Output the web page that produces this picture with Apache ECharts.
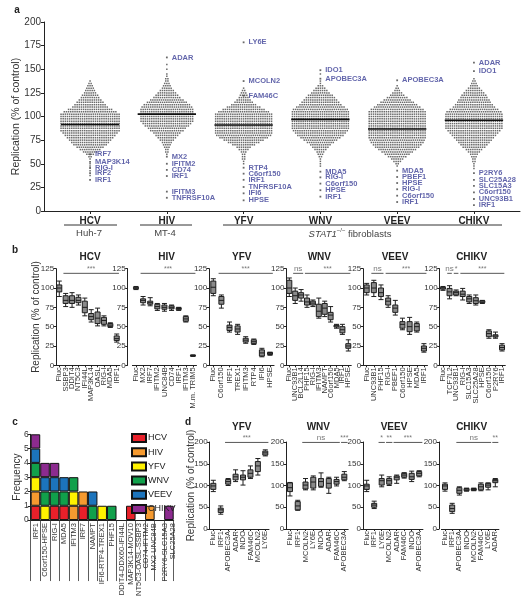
<!DOCTYPE html>
<html><head><meta charset="utf-8">
<script src="https://cdn.jsdelivr.net/npm/echarts@6/dist/echarts.min.js"></script>
<style>html,body{margin:0;padding:0;background:#fff}#c{width:530px;height:599px}</style>
</head><body><div id="c"></div><script>
// ---------- DATA: panel a (screen, beeswarm rows as [value, count]) ----------
const virusesA = ['HCV','HIV','YFV','WNV','VEEV','CHIKV'];
const cellLines = ['Huh-7','MT-4','fibroblasts'];
const meansA = [91.5, 102.5, 91, 97, 86.7, 96];
const swarmHCV = [[137.5,1],[135,2],[132.5,3],[130,4],[127.5,5],[125,6],[122.5,8],[120,9],[117.5,11],[115,13],[112.5,15],[110,17],[107.5,21],[105,25],[102.5,28],[100,28],[97.5,28],[95,28],[92.5,28],[90,28],[87.5,28],[85,28],[82.5,26],[80,24],[77.5,22],[75,20],[72.5,18],[70,16],[67.5,13],[65,10],[62.5,7],[60,4],[57.5,2],[55,1],[50,1],[47.5,1],[42.5,1],[37.5,1]];
const swarmHIV = [[155,1],[150,1],[145,1],[142.5,1],[140,2],[137.5,2],[135,3],[132.5,4],[130,5],[127.5,7],[125,9],[122.5,11],[120,13],[117.5,16],[115,19],[112.5,22],[110,24],[107.5,25],[105,25],[102.5,25],[100,25],[97.5,25],[95,25],[92.5,23],[90,21],[87.5,18],[85,16],[82.5,13],[80,11],[77.5,9],[75,7],[72.5,5],[70,4],[67.5,3],[65,2],[62.5,2],[60,1]];
const swarmYFV = [[130,1],[127.5,2],[125,3],[122.5,4],[120,5],[117.5,7],[115,9],[112.5,12],[110,16],[107.5,20],[105,24],[102.5,27],[100,27],[97.5,27],[95,27],[92.5,27],[90,27],[87.5,27],[85,27],[82.5,27],[80,26],[77.5,23],[75,19],[72.5,15],[70,11],[67.5,7],[65,5],[62.5,3],[60,2],[57.5,2],[55,2],[52.5,1],[50,1]];
const swarmWNV = [[145,1],[137.5,1],[135,1],[132.5,3],[130,5],[127.5,7],[125,9],[122.5,12],[120,14],[117.5,16],[115,18],[112.5,20],[110,23],[107.5,26],[105,27],[102.5,27],[100,27],[97.5,27],[95,27],[92.5,27],[90,27],[87.5,27],[85,26],[82.5,24],[80,22],[77.5,19],[75,16],[72.5,13],[70,10],[67.5,8],[65,6],[62.5,4],[60,3],[57.5,2],[55,1],[52.5,1],[50,1],[47.5,1]];
const swarmVEEV = [[132.5,1],[130,2],[127.5,3],[125,5],[122.5,7],[120,10],[117.5,13],[115,16],[112.5,19],[110,22],[107.5,25],[105,27],[102.5,27],[100,27],[97.5,27],[95,27],[92.5,27],[90,27],[87.5,27],[85,27],[82.5,27],[80,27],[77.5,27],[75,26],[72.5,25],[70,23],[67.5,21],[65,18],[62.5,15],[60,12],[57.5,9],[55,6],[52.5,4],[50,2],[47.5,1]];
const swarmCHIKV = [[140,1],[137.5,2],[135,3],[132.5,4],[130,6],[127.5,8],[125,10],[122.5,12],[120,13],[117.5,15],[115,16],[112.5,18],[110,20],[107.5,23],[105,26],[102.5,27],[100,27],[97.5,27],[95,27],[92.5,27],[90,27],[87.5,27],[85,25],[82.5,23],[80,21],[77.5,19],[75,17],[72.5,15],[70,13],[67.5,11],[65,8],[62.5,6],[60,4],[57.5,3],[55,2],[52.5,2],[50,1],[47.5,1],[45,1]];
const hitsHCV = [['IRF7',60],['MAP3K14',52],['RIG-I',45.5],['IRF2',40],['IRF1',33]];
const hitsHIV = [['ADAR',162.5],['MX2',57.5],['IFITM2',50],['CD74',43.5],['IRF1',37],['IFITM3',20.5],['TNFRSF10A',14]];
const hitsYFV = [['LY6E',178.5],['MCOLN2',137.5],['FAM46C',122],['RTP4',45.8],['C6orf150',39.5],['IRF1',33],['TNFRSF10A',25.4],['IFI6',18.7],['HPSE',11.3]];
const hitsWNV = [['IDO1',149],['APOBEC3A',140],['MDA5',41.6],['RIG-I',35.6],['C6orf150',29],['HPSE',22],['IRF1',15.2]];
const hitsVEEV = [['APOBEC3A',138.3],['MDA5',42.7],['PBEF1',36],['HPSE',29.6],['RIG-I',23],['C6orf150',16.2],['IRF1',9.5]];
const hitsCHIKV = [['ADAR',157],['IDO1',148],['P2RY6',40],['SLC25A28',33],['SLC15A3',26.5],['C6orf150',19.8],['UNC93B1',12.7],['IRF1',6.3]];

// ---------- DATA: panel b (boxes: [min, q1, median, q3, max]) ----------
const bHCVcats = ['Fluc','SSBP3','DDIT4','NT5C3','IFI44L','MAP3K14','OASL','RIG-I','MDA5','IRF1'];
const bHCVboxes = [[89,95,100,104,109],[76,80,84,90,93],[75,80,84,90,94],[78,81,84,88,91],[64,68,75,83,87],[56,59,63,67,72],[51,54,61,69,74],[51,53,58,62,64],[49,50,52,54,55],[30,32,34.5,38,40.5]];
const bHCVsig = [[1,9,'***']];
const bHIVcats = ['Fluc','MX2','IRF7','IFITM2','UNC84B','CD74','IRF1','IFITM3','M.m. TRIM5'];
const bHIVboxes = [[98,99,100,101,102],[78,81,84,86,89],[77,79,81,83,87.5],[71,73,76,79,80],[70,72.5,75,78,80],[71,73,75,77,78],[71,72,73.5,74.5,75],[56,57,60,63,64],[11.5,12,12.5,13,13.5]];
const bHIVsig = [[1,8,'***']];
const bYFVcats = ['Fluc','C6orf150','IRF1','TREX1','IFITM3','RTP4','IFI6','HPSE'];
const bYFVboxes = [[90,93,101,109,112],[74,79,84,89,91],[43,45,49,52,56],[40,43,47,51,53],[28.5,30,32.5,35,37],[27,28,30.5,33,34],[11,12,16,20,22],[13,14,15.5,16.5,17]];
const bYFVsig = [[1,7,'***']];
const bWNVcats = ['Fluc','UNC93B1','BCL2L14','PHF15','RIG-I','IFITM3','NAMPT','C6orf150','MDA5','IRF1','HPSE'];
const bWNVboxes = [[89,93,100,110,113],[80,84,90,96,100],[83,87,91,94,98],[75,78,82,87,91],[76,78,80.5,83,84.5],[61,63,70,79,87],[63,66,74,80,83],[56,59,65,68.5,76],[48,49.5,51,52,53],[40,42,46,50,53],[18.5,22,25,28,33]];
const bWNVsig = [[1,2,'ns'],[3,10,'***']];
const bVEEVcats = ['Fluc','UNC93B1','PHF15','RIG-I','PBEF1','C6orf150','HPSE','MDA5','IRF1'];
const bVEEVboxes = [[91,94,100,104,106],[89,94,100,107,110],[85,89,94,100,104],[75,78,83,87,90],[65,68.5,74,78,84],[46,48,53,56.5,61],[40,43.5,50,56.5,62],[43,44.5,50,54,56],[17,18.5,22,25,28]];
const bVEEVsig = [[1,2,'ns'],[3,8,'***']];
const bCHIKVcats = ['Fluc','TCF7L2','UNC93B1','RIG-I','SLC15A3','SLC25A28','HPSE','C6orf150','P2RY6','IRF1'];
const bCHIKVboxes = [[97,98.5,100,101,102],[86,90,95,99.5,103],[90,91,94,96,97.5],[84.5,89,92,96,99.5],[80,82,86,89,91],[78,80,83.5,87.5,91],[80,81,82,83.5,84],[35,37,41,44.5,46],[35,36.5,38,39.5,43],[18.5,20,23,26,28]];
const bCHIKVsig = [[1,1,'ns'],[2,2,'*'],[3,9,'***']];

// ---------- DATA: panel c ----------
const cCats = ['IRF1','C6orf150-HPSE','RIG-I','MDA5','IFITM3','IRF7','NAMPT','IFI6-RTP4-TREX1','PHF15',' ','DDIT4-DDX60-IFI44L\nMAP3K14-MOV10\nNT5C3-OASL-SSBP3','  ','CD74-IFITM2\nMX2-UNC84B','   ','P2RY6-SLC15A3\nSLC25A28'];
const cHCV   = [1,0,1,1,0,1,0,0,0,0,1,0,0,0,0];
const cHIV   = [1,0,0,0,1,1,0,0,0,0,0,0,1,0,0];
const cYFV   = [1,1,0,0,1,0,0,1,0,0,0,0,0,0,0];
const cWNV   = [1,1,1,1,1,0,1,0,1,0,0,0,0,0,0];
const cVEEV  = [1,1,1,1,0,0,1,0,0,0,0,0,0,0,0];
const cCHIKV = [1,1,1,0,0,0,0,0,0,0,0,0,0,0,1];

// ---------- DATA: panel d ----------
const dYFVcats = ['Fluc','IRF1','APOBEC3A','ADAR','INDO','FAM46C','MCOLN2','LY6E'];
const dYFVboxes = [[86,91,99,105,112],[34,38,44,48,53],[100,103,109,114,116],[109,113,120,126,136],[101,113,119,124,134],[116,119,128,136,145],[124,132,145,155,162],[168,170,175,179,182]];
const dYFVsig = [[2,7,'***']];
const dWNVcats = ['Fluc','IRF1','MCOLN2','LY6E','INDO','ADAR','FAM46C','APOBEC3A'];
const dWNVboxes = [[76,86,95,106,107],[43,44,53,63,66],[90,92,101,108,116],[90,94,108,119,122],[96,98,109,116,129],[82,94,105,116,119],[99,103,109,114,119],[111,113,119,126,132]];
const dWNVsig = [[2,6,'ns'],[7,7,'***']];
const dVEEVcats = ['Fluc','IRF1','LY6E','MCOLN2','ADAR','FAM46C','INDO','APOBEC3A'];
const dVEEVboxes = [[86,91,99,103,112],[47,50,55,59,64],[97,101,111,116,124],[100,103,111,116,120],[105,113,119,122,124],[117,119,124,128,129.5],[109,114,120,128,133],[120,122,128,132,134]];
const dVEEVsig = [[2,2,'*'],[3,3,'**'],[4,7,'***']];
const dCHIKVcats = ['Fluc','IRF1','APOBEC3A','INDO','MCOLN2','FAM46C','LY6E','ADAR'];
const dCHIKVboxes = [[87,91,99,103,106],[36,40,47,55,59],[78,82,89,95,97],[87,88,90,93,94],[88,89,91,93,94],[88,90,97,103,106],[90,96,101,105,106],[97,106.5,111,114,116]];
const dCHIKVsig = [[2,6,'ns'],[7,7,'**']];

// ---------- BUILD ----------
const FF = '"Liberation Sans", Arial, Helvetica, sans-serif';
const AX = '#222';
const gridsArr = [], xAxes = [], yAxes = [], seriesArr = [], graphics = [];
function txt(x, y, text, font, extra) {
  graphics.push({type:'text', x:x, y:y, silent:true, z:50,
    style:Object.assign({text:text, fill:'#222', font:font || ('10px ' + FF), align:'center', verticalAlign:'middle'}, extra || {})});
}
function hline(x1, x2, y, w) {
  graphics.push({type:'line', silent:true, shape:{x1:x1, y1:y, x2:x2, y2:y}, style:{stroke:'#333', lineWidth:w || 1}});
}

// Panel a
gridsArr.push({left:44, top:22, width:476, height:189});
xAxes.push({type:'value', gridIndex:0, min:-0.6, max:5.6,
  axisLine:{show:true, onZero:false, lineStyle:{color:AX, width:1}},
  axisTick:{show:true, customValues:[0,1,2,3,4,5], length:3, lineStyle:{color:AX}},
  axisLabel:{show:true, customValues:[0,1,2,3,4,5], formatter:v => virusesA[Math.round(v)] || '', fontWeight:'bold', fontSize:10, color:'#222', margin:5, fontFamily:FF},
  splitLine:{show:false}});
yAxes.push({type:'value', gridIndex:0, min:0, max:200, interval:25,
  axisLine:{show:true, onZero:false, lineStyle:{color:AX}},
  axisTick:{show:true, length:3, lineStyle:{color:AX}},
  axisLabel:{fontSize:10, color:'#333', margin:3, fontFamily:FF}, splitLine:{show:false},
  name:'Replication (% of control)', nameLocation:'middle', nameGap:22, nameMoveOverlap:false,
  nameTextStyle:{fontSize:10.5, color:'#333', fontFamily:FF}});
const swarms = [swarmHCV, swarmHIV, swarmYFV, swarmWNV, swarmVEEV, swarmCHIKV];
const hitsAll = [hitsHCV, hitsHIV, hitsYFV, hitsWNV, hitsVEEV, hitsCHIKV];
const dotGap = 2.15 / (476 / 6.2); // horizontal spacing of swarm dots, in axis units
const swarmPts = [];
swarms.forEach((rows, ci) => {
  rows.forEach(([v, n]) => {
    for (let j = 0; j < n; j++) swarmPts.push([ci + (j - (n - 1) / 2) * dotGap, v]);
  });
});
seriesArr.push({type:'scatter', xAxisIndex:0, yAxisIndex:0, data:swarmPts, symbol:'rect', symbolSize:1.5,
  itemStyle:{color:'#444'}, silent:true, animation:false});
const hitPts = [];
hitsAll.forEach((hs, ci) => hs.forEach(([name, v]) => hitPts.push({name:name, value:[ci, v]})));
seriesArr.push({type:'scatter', xAxisIndex:0, yAxisIndex:0, data:hitPts, symbol:'rect', symbolSize:1.8,
  itemStyle:{color:'#444'}, silent:true, animation:false,
  label:{show:true, position:'right', distance:4, formatter:p => p.name, fontSize:7.5, fontWeight:'bold', color:'#3b3f96', fontFamily:FF}});
meansA.forEach((m, ci) => {
  seriesArr.push({type:'line', xAxisIndex:0, yAxisIndex:0, data:[[ci - 0.38, m], [ci + 0.38, m]], symbol:'none',
    lineStyle:{color:'#111', width:1.6}, silent:true, animation:false, z:5});
});
// group annotations under panel a
hline(64, 117, 225, 1); hline(140, 192, 225, 1); hline(223, 502, 225, 1);
txt(89, 233, cellLines[0], '9.5px ' + FF, {fill:'#444'});
txt(165, 233, cellLines[1], '9.5px ' + FF, {fill:'#444'});
graphics.push({type:'text', x:350, y:233, silent:true, style:{
  text:'{i|STAT1}{s|−/−}{n| ' + cellLines[2] + '}', align:'center', verticalAlign:'middle', fill:'#444',
  rich:{i:{fontStyle:'italic', fontSize:9.5, fontFamily:FF, fill:'#444', lineHeight:12, verticalAlign:'bottom'},
        s:{fontSize:6, fontFamily:FF, fill:'#444', lineHeight:12, verticalAlign:'top'},
        n:{fontSize:9.5, fontFamily:FF, fill:'#444', lineHeight:12, verticalAlign:'bottom'}}}});

// box panels (b, d)
function addBoxPanel(p) {
  const g = gridsArr.length;
  gridsArr.push({left:p.left, top:p.top, width:p.width, height:p.height});
  const xi = xAxes.length;
  xAxes.push({type:'category', gridIndex:g, data:p.cats, boundaryGap:true,
    axisLine:{show:true, onZero:false, lineStyle:{color:AX, width:1}},
    axisTick:{show:true, length:2, alignWithLabel:true, interval:0, lineStyle:{color:AX}},
    axisLabel:{rotate:90, interval:0, fontSize:7.5, color:'#333', margin:2, fontFamily:FF},
    splitLine:{show:false}});
  const xh = xAxes.length;
  xAxes.push({type:'value', gridIndex:g, min:-0.5, max:p.cats.length - 0.5, show:false});
  const yi = yAxes.length;
  yAxes.push({type:'value', gridIndex:g, min:0, max:p.yMax, interval:p.yInt, offset:p.offset || 0,
    axisLine:{show:true, onZero:false, lineStyle:{color:AX}},
    axisTick:{show:true, length:2.5, lineStyle:{color:AX}},
    axisLabel:{fontSize:8, color:'#333', margin:2, fontFamily:FF}, splitLine:{show:false},
    name:p.yName || '', nameLocation:'middle', nameGap:p.nameGap || 20, nameMoveOverlap:false,
    nameTextStyle:{fontSize:10, color:'#333', fontFamily:FF}});
  seriesArr.push({type:'boxplot', xAxisIndex:xi, yAxisIndex:yi, data:p.boxes, boxWidth:[5, 5],
    itemStyle:{color:'#8a8a8a', borderColor:'#1e1e1e', borderWidth:1}, silent:true, animation:false});
  p.sig.forEach(([s, e, t]) => {
    seriesArr.push({type:'line', xAxisIndex:xh, yAxisIndex:yi, data:[[s - p.sigHalf, p.sigY], [e + p.sigHalf, p.sigY]],
      symbol:'none', lineStyle:{color:'#444', width:0.9}, silent:true, animation:false, clip:false});
    seriesArr.push({type:'scatter', xAxisIndex:xh, yAxisIndex:yi, data:[[(s + e) / 2, p.sigY]], symbolSize:1,
      itemStyle:{color:'rgba(0,0,0,0)'}, silent:true, animation:false, clip:false,
      label:{show:true, position:'top', distance:0, formatter:t, fontSize:t === 'ns' ? 8 : 7, color:'#555', fontFamily:FF}});
  });
  txt(p.titleX, p.titleY, p.title, 'bold 10px ' + FF);
}
const bDefs = [
  ['HCV', bHCVcats, bHCVboxes, bHCVsig, 56.1, 63.8, 0, 90],
  ['HIV', bHIVcats, bHIVboxes, bHIVsig, 132.4, 64.1, 4.7, 166.7],
  ['YFV', bYFVcats, bYFVboxes, bYFVsig, 209.25, 64.8, 0, 241.7],
  ['WNV', bWNVcats, bWNVboxes, bWNVsig, 286.35, 64.9, 0, 319.3],
  ['VEEV', bVEEVcats, bVEEVboxes, bVEEVsig, 363.1, 64.4, 0, 395],
  ['CHIKV', bCHIKVcats, bCHIKVboxes, bCHIKVsig, 439.7, 65.6, 0, 471.7]
];
bDefs.forEach((d, i) => addBoxPanel({title:d[0], cats:d[1], boxes:d[2], sig:d[3], left:d[4], width:d[5], offset:d[6],
  titleX:d[7], titleY:257.7, top:268.7, height:96.6, yMax:125, yInt:25, sigY:119, sigHalf:0.35,
  yName:i === 0 ? 'Replication (% of control)' : '', nameGap:15}));
const dDefs = [
  ['YFV', dYFVcats, dYFVboxes, dYFVsig, 209.6, 59.4, 0, 241.7],
  ['WNV', dWNVcats, dWNVboxes, dWNVsig, 286.1, 62.1, 0, 318.3],
  ['VEEV', dVEEVcats, dVEEVboxes, dVEEVsig, 362.95, 60, 0, 394],
  ['CHIKV', dCHIKVcats, dCHIKVboxes, dCHIKVsig, 441.4, 57.5, 2.4, 471.7]
];
dDefs.forEach((d, i) => addBoxPanel({title:d[0], cats:d[1], boxes:d[2], sig:d[3], left:d[4], width:d[5], offset:d[6],
  titleX:d[7], titleY:427.7, top:442, height:87, yMax:200, yInt:50, sigY:199, sigHalf:0.42,
  yName:i === 0 ? 'Replication (% of control)' : '', nameGap:13}));

// Panel c
const gc = gridsArr.length;
gridsArr.push({left:30.7, top:434.3, width:143, height:96});
const xc = xAxes.length;
xAxes.push({type:'category', gridIndex:gc, data:cCats, boundaryGap:true,
  axisLine:{show:true, onZero:false, lineStyle:{color:AX}},
  axisTick:{show:true, interval:0, length:61, alignWithLabel:false, lineStyle:{color:'#333', width:0.8}},
  axisLabel:{rotate:90, interval:0, fontSize:7.5, color:'#333', margin:3, lineHeight:8.5, fontFamily:FF},
  splitLine:{show:false}});
const yc = yAxes.length;
yAxes.push({type:'value', gridIndex:gc, min:0, max:6, interval:1,
  axisLine:{show:true, onZero:false, lineStyle:{color:AX}},
  axisTick:{show:true, length:3, lineStyle:{color:AX}},
  axisLabel:{fontSize:8.5, color:'#333', margin:2, fontFamily:FF}, splitLine:{show:false},
  name:'Frequency', nameLocation:'middle', nameGap:8, nameMoveOverlap:false, nameTextStyle:{fontSize:10, color:'#333', fontFamily:FF}});
const cSets = [['HCV', cHCV, '#e8202a'], ['HIV', cHIV, '#f59a30'], ['YFV', cYFV, '#fff200'],
               ['WNV', cWNV, '#11a04b'], ['VEEV', cVEEV, '#1c74bc'], ['CHIKV', cCHIKV, '#8c2b8f']];
cSets.forEach(([name, arr, col]) => {
  seriesArr.push({type:'bar', name:name, stack:'freq', xAxisIndex:xc, yAxisIndex:yc,
    data:arr.map(v => v ? v : '-'), barWidth:'100%', barCategoryGap:0,
    itemStyle:{color:col, borderColor:'#111', borderWidth:1}, silent:true, animation:false});
});

// panel letters
txt(17, 10, 'a', 'bold 10px ' + FF);
txt(15, 250, 'b', 'bold 10px ' + FF);
txt(15, 422, 'c', 'bold 10px ' + FF);
txt(188, 422, 'd', 'bold 10px ' + FF);

const chart = echarts.init(document.getElementById('c'));
chart.setOption({
  animation:false,
  backgroundColor:'#fff',
  textStyle:{fontFamily:FF},
  grid:gridsArr, xAxis:xAxes, yAxis:yAxes, series:seriesArr,
  legend:{data:cSets.map(s => s[0]), orient:'vertical', left:131, top:433, padding:0, itemWidth:14, itemHeight:8, itemGap:4.2,
    icon:'rect', selectedMode:false, textStyle:{fontSize:9, lineHeight:9, height:9, color:'#222', fontFamily:FF, padding:[0,0,0,-3]}},
  graphic:graphics
});
</script></body></html>
